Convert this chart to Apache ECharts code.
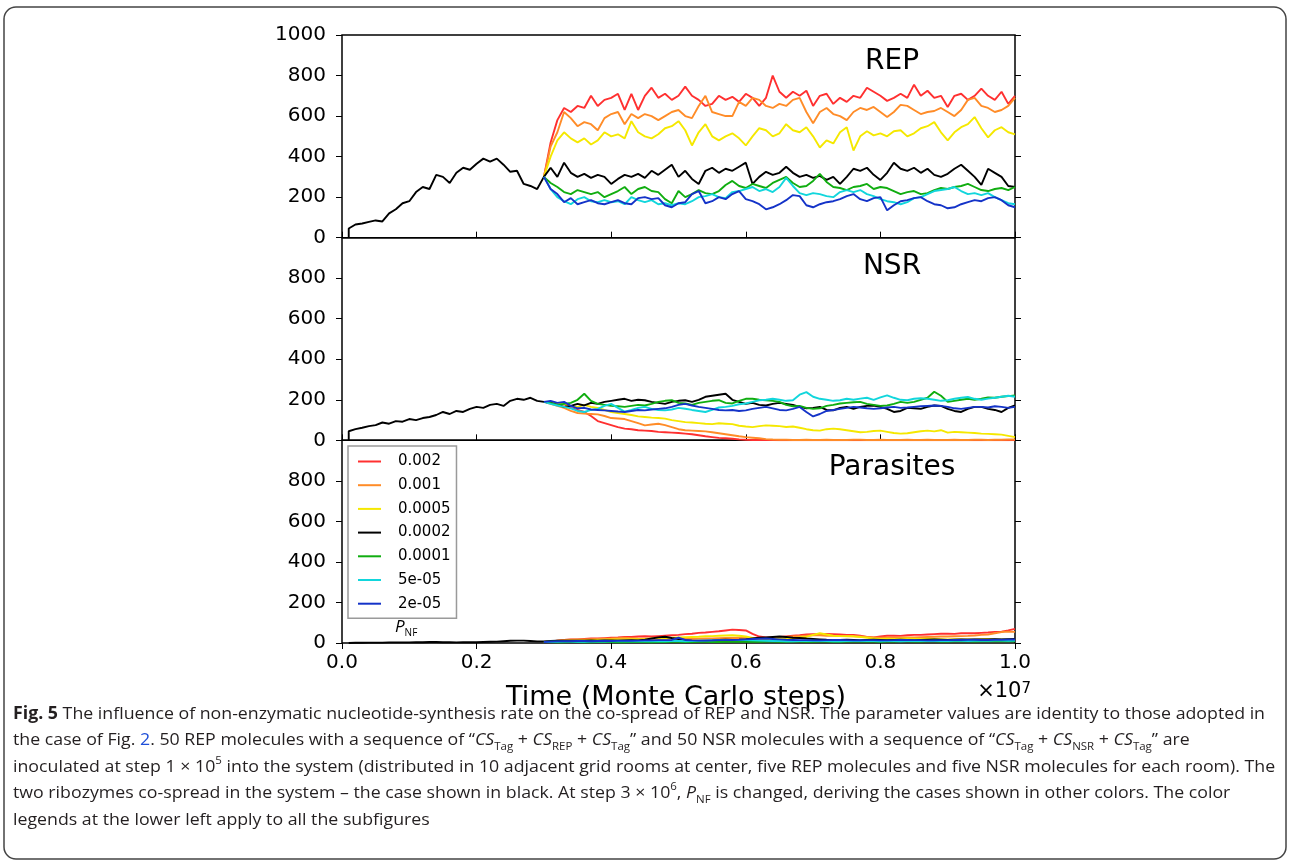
<!DOCTYPE html>
<html><head><meta charset="utf-8">
<script src="https://cdn.jsdelivr.net/npm/echarts@6/dist/echarts.min.js"></script>
<style>html,body{margin:0;padding:0;background:#fff}#c{width:1290px;height:864px}</style>
</head><body><div id="c"></div>
<script>
// ---------- categories / labels ----------
const panelNames = ['REP', 'NSR', 'Parasites'];
const seriesNames = ['0.002', '0.001', '0.0005', '0.0002', '0.0001', '5e-05', '2e-05'];
const seriesColors = ['#ff3030', '#ff8c28', '#f5e800', '#000000', '#10ad10', '#12d6dc', '#1433c8'];
const xTickLabels = ['0.0', '0.2', '0.4', '0.6', '0.8', '1.0']; // x 10^7
const yTickValues = [0, 200, 400, 600, 800, 1000];

// time (in units of 1e6 Monte Carlo steps)
const tPre = [0.1,0.1,0.2,0.3,0.4,0.5,0.6,0.7,0.8,0.9,
  1.0,1.1,1.2,1.3,1.4,1.5,1.6,1.7,1.8,1.9,
  2.0,2.1,2.2,2.3,2.4,2.5,2.6,2.7,2.8,2.9];
const tPost = [3.0,3.1,3.2,3.3,3.4,3.5,3.6,3.7,3.8,3.9,
  4.0,4.1,4.2,4.3,4.4,4.5,4.6,4.7,4.8,4.9,
  5.0,5.1,5.2,5.3,5.4,5.5,5.6,5.7,5.8,5.9,
  6.0,6.1,6.2,6.3,6.4,6.5,6.6,6.7,6.8,6.9,
  7.0,7.1,7.2,7.3,7.4,7.5,7.6,7.7,7.8,7.9,
  8.0,8.1,8.2,8.3,8.4,8.5,8.6,8.7,8.8,8.9,
  9.0,9.1,9.2,9.3,9.4,9.5,9.6,9.7,9.8,9.9,
  10.0];

// ---------- REP ----------
const repBlackPre = [0,45,65,70,78,85,80,120,140,170, 180,225,250,240,310,300,270,320,345,335, 365,390,375,390,360,325,330,265,255,240];
const repRed = [300,470,580,640,620,650,640,700,650,680, 690,710,630,710,630,700,740,690,710,680, 700,745,700,680,650,660,700,680,695,670, 710,690,650,690,800,720,690,720,700,725, 650,700,710,660,690,670,700,690,740,720, 700,675,690,710,690,755,700,725,690,700, 645,700,710,680,700,735,700,680,720,660, 700];
const repOrange = [300,450,520,620,590,550,570,560,530,590, 610,620,560,610,590,610,600,580,600,620, 630,600,590,650,700,620,610,600,600,670, 650,690,680,650,640,660,650,680,690,620, 565,620,640,610,600,580,620,640,630,645, 620,595,620,655,650,630,610,620,625,640, 620,600,630,680,690,650,640,620,630,650, 690];
const repYellow = [300,400,480,520,490,470,490,460,480,520, 500,510,490,575,520,500,490,510,540,550, 575,530,455,520,560,500,480,500,515,490, 455,500,540,530,500,515,560,530,520,545, 500,445,480,465,520,545,430,500,525,505, 515,500,525,530,500,515,540,550,570,520, 480,520,545,560,595,540,495,530,545,520, 510];
const repBlack = [300,345,300,370,320,300,315,295,310,300, 265,290,310,300,315,295,330,310,335,360, 300,330,290,265,330,345,320,340,330,350, 370,265,300,325,310,320,350,320,300,310, 295,305,285,300,265,300,340,330,345,310, 285,320,370,340,330,345,320,340,310,300, 315,340,360,330,300,260,340,320,300,255, 250];
const repGreen = [300,270,250,225,215,235,225,215,225,200, 215,230,250,215,240,250,230,225,190,170, 230,200,215,235,220,215,230,260,280,255, 245,265,255,245,270,285,300,270,250,255, 280,315,275,250,245,235,250,255,265,240, 250,245,230,215,225,230,215,220,235,245, 240,250,255,265,250,235,230,240,245,235, 250];
const repCyan = [300,240,200,180,165,190,200,180,175,185, 175,180,165,200,185,175,185,165,170,160, 170,165,180,200,205,215,200,195,225,230, 240,250,230,240,225,250,295,255,220,210, 220,215,205,200,225,235,225,235,215,205, 190,180,175,165,175,195,200,215,230,235, 240,250,230,215,220,210,220,200,185,170, 165];
const repBlue = [300,240,215,175,195,165,175,185,170,165, 175,185,170,165,195,200,190,195,160,150, 170,175,215,230,170,180,200,190,215,230, 190,180,165,140,150,165,185,210,205,160, 150,165,175,180,190,205,215,190,180,195, 200,135,160,180,185,195,200,180,165,160, 145,150,165,175,185,180,195,200,185,160, 150];

// ---------- NSR ----------
const nsrBlackPre = [0,45,55,62,70,75,88,82,95,92, 105,100,110,115,125,140,130,145,140,155, 165,160,175,180,170,195,205,200,210,195];
const nsrRed = [190,185,180,178,160,150,140,120,95,85, 75,65,58,55,50,48,46,42,40,38, 36,33,30,25,20,16,12,10,8,5, 3,2,2,1,1,0,1,0,0,1, 0,0,1,0,0,0,1,0,0,0, 1,0,0,0,0,1,0,0,0,0, 0,1,0,0,0,0,1,0,0,0, 1];
const nsrOrange = [190,180,170,160,145,135,132,130,128,120, 110,108,105,95,85,74,78,82,75,65, 55,50,48,46,44,40,35,30,25,20, 16,13,10,6,4,3,3,2,2,3, 2,2,3,2,2,2,3,3,2,2, 3,2,2,2,3,2,2,3,2,2, 2,3,2,2,3,3,2,3,3,4, 4];
const nsrYellow = [190,185,178,180,170,165,175,165,160,150, 140,135,130,125,118,115,112,110,107,100, 95,90,88,85,82,80,84,82,80,72, 68,65,70,74,72,70,66,68,62,55, 50,48,55,58,55,50,45,40,42,46, 48,42,36,33,35,40,45,48,44,50, 38,42,40,38,36,33,32,30,28,22, 16];
const nsrBlack = [190,185,175,165,170,180,172,185,180,190, 195,200,205,195,200,198,190,185,180,190, 195,198,190,200,215,220,225,230,200,190, 180,185,175,172,180,185,180,175,165,158, 160,165,150,148,160,165,155,165,170,172, 165,155,140,145,160,158,155,165,172,170, 155,145,140,155,165,165,155,150,140,160, 172];
const nsrGreen = [190,185,175,180,185,200,230,195,180,175, 170,168,165,170,175,172,180,190,195,198, 185,182,175,185,190,195,198,185,182,195, 205,205,200,198,195,190,175,168,170,160, 155,158,170,175,182,185,188,190,180,175, 170,172,180,190,185,190,200,210,240,220, 190,195,200,205,200,205,212,210,215,218, 222];
const nsrCyan = [190,180,172,165,158,145,140,150,155,170, 180,160,142,150,160,165,155,150,148,152, 160,156,150,145,140,150,162,165,170,178, 182,190,198,200,205,200,195,198,225,238, 215,205,200,195,198,205,200,206,210,200, 212,222,210,200,198,205,208,205,200,195, 198,205,210,214,205,200,206,210,215,220, 215];
const nsrBlue = [190,195,185,190,170,158,160,152,150,148, 145,142,140,145,150,148,152,155,158,165, 175,180,172,165,160,155,150,148,150,145, 148,155,160,165,158,150,148,155,165,140, 118,130,145,150,155,160,165,162,158,155, 158,162,165,160,162,165,168,170,172,170, 165,158,155,160,165,165,162,168,165,160, 165];

// ---------- Parasites ----------
const parBlackPre = [0,0,1,1,2,2,2,3,3,3, 3,4,4,5,5,4,4,3,4,4, 4,5,6,7,9,11,12,12,10,8];
const parRed = [5,8,12,15,17,18,20,22,22,24, 26,27,30,30,32,33,32,34,36,38, 40,44,46,50,52,55,58,62,66,64, 62,45,32,27,28,30,33,36,38,42, 43,44,45,44,42,40,40,36,30,27, 32,36,36,35,38,40,40,42,44,46, 46,45,48,49,48,50,52,55,56,62, 70];
const parOrange = [5,8,12,15,16,17,18,19,20,21, 22,24,26,24,22,21,20,20,21,22, 22,21,20,21,22,23,24,25,25,26, 25,24,22,23,25,27,30,32,34,36, 38,38,36,35,34,34,33,32,30,28, 26,27,28,28,27,28,29,30,31,32, 32,33,34,35,37,40,42,48,54,56, 55];
const parYellow = [5,7,9,10,11,12,13,14,15,16, 17,18,18,19,19,20,22,24,25,26, 28,29,30,31,33,34,36,37,38,36, 32,25,21,20,21,22,23,24,27,30, 40,48,42,36,34,33,33,30,26,22, 20,21,20,21,22,21,20,21,20,19, 18,19,18,19,18,19,20,19,18,19, 19];
const parBlack = [8,10,11,12,12,11,12,13,12,13, 13,12,13,14,13,16,22,28,31,25, 20,14,10,10,12,13,15,16,15,16, 18,22,26,28,30,32,30,26,25,22, 20,18,16,15,15,16,15,14,15,16, 15,14,15,16,15,14,15,16,17,16, 15,16,17,16,18,17,18,19,18,19, 20];
const parGreen = [5,5,4,4,5,5,4,4,5,5, 5,4,4,5,5,5,4,5,5,6, 6,5,5,6,6,5,5,6,6,6, 7,6,6,7,7,6,6,7,7,6, 6,7,7,6,6,7,7,8,7,7, 6,7,7,8,8,7,7,8,8,7, 7,8,8,8,7,8,8,9,9,8, 8];
const parCyan = [5,6,6,7,7,6,6,7,8,7, 8,8,9,8,8,9,9,10,9,10, 10,9,10,11,12,13,14,14,15,14, 14,13,12,11,10,10,9,9,10,10, 11,10,10,9,9,10,10,11,10,10, 9,10,10,9,10,11,10,10,11,10, 10,11,11,10,11,12,11,12,12,11, 12];
const parBlue = [5,7,8,9,9,10,10,9,10,11, 10,11,12,11,12,13,13,14,14,15, 26,15,13,12,12,13,14,14,15,16, 18,20,21,22,20,18,16,15,14,14, 13,13,14,15,15,14,13,13,14,14, 13,13,14,15,15,14,14,13,13,14, 14,15,15,16,16,15,15,16,16,17, 17];

const panelPre = [repBlackPre, nsrBlackPre, parBlackPre];
const panelPost = [
  [repRed, repOrange, repYellow, repBlack, repGreen, repCyan, repBlue],
  [nsrRed, nsrOrange, nsrYellow, nsrBlack, nsrGreen, nsrCyan, nsrBlue],
  [parRed, parOrange, parYellow, parBlack, parGreen, parCyan, parBlue]
];

// ---------- layout ----------
const L = 342, W = 673, TOP = 35, PH = 202.67;
const FONT = '"DejaVu Sans", sans-serif';

const grids = [], xAxes = [], yAxes = [], series = [];
for (let p = 0; p < 3; p++) {
  grids.push({left: L, width: W, top: TOP + p * PH, height: PH, show: true,
    borderColor: '#000', borderWidth: 1.5, backgroundColor: 'transparent'});
  xAxes.push({type: 'value', gridIndex: p, min: 0, max: 10, interval: 2,
    axisLine: {show: false},
    axisTick: {show: true, inside: p < 2, length: 6, lineStyle: {color: '#000', width: 1}},
    axisLabel: {show: p === 2, margin: 10, color: '#000', fontSize: 20, fontFamily: FONT,
      formatter: v => xTickLabels[Math.round(v / 2)]},
    splitLine: {show: false}});
  yAxes.push({type: 'value', gridIndex: p, min: 0, max: 1000, interval: 200, position: 'left',
    axisLine: {show: false},
    axisTick: {show: true, length: 6, lineStyle: {color: '#000', width: 1}},
    axisLabel: {margin: 16, color: '#000', fontSize: 20, fontFamily: FONT,
      formatter: v => (p > 0 && v === yTickValues[5]) ? '' : String(v)},
    splitLine: {show: false}});
  yAxes.push({type: 'value', gridIndex: p, min: 0, max: 1000, interval: 200, position: 'right',
    axisLine: {show: false},
    axisTick: {show: true, length: 6, lineStyle: {color: '#000', width: 1}},
    axisLabel: {show: false}, splitLine: {show: false}});
  for (let k = 0; k < 7; k++) {
    let data = [];
    if (k === 3) data = tPre.map((t, i) => [t, panelPre[p][i]]);
    data = data.concat(tPost.map((t, i) => [t, panelPost[p][k][i]]));
    series.push({type: 'line', name: seriesNames[k], xAxisIndex: p, yAxisIndex: p * 2,
      data: data, symbol: 'none', showSymbol: false, animation: false, color: seriesColors[k],
      lineStyle: {width: 1.9, color: seriesColors[k]}});
  }
}

// caption horizontal scale (condensed look)
const cv = document.createElement('canvas').getContext('2d');
const CAPF = '"Open Sans", sans-serif';
cv.font = 'bold 17px ' + CAPF;
let w1 = cv.measureText('Fig. 5').width;
cv.font = '17px ' + CAPF;
w1 += cv.measureText(' The influence of non-enzymatic nucleotide-synthesis rate on the co-spread of REP and NSR. The parameter values are identity to those adopted in').width;
const capScale = 1252 / w1;

const rich = {
  b: {fontWeight: 'bold', fontSize: 17, fontFamily: CAPF, fill: '#231f20', lineHeight: 24},
  i: {fontStyle: 'italic', fontSize: 17, fontFamily: CAPF, fill: '#231f20', lineHeight: 24},
  sub: {fontSize: 11, fontFamily: CAPF, fill: '#231f20', lineHeight: 12, verticalAlign: 'bottom'},
  sup: {fontSize: 11, fontFamily: CAPF, fill: '#231f20', lineHeight: 12, verticalAlign: 'top'},
  l: {fontSize: 17, fontFamily: CAPF, fill: '#1f4fd8', lineHeight: 24}
};
const captionLines = [
  '{b|Fig. 5} The influence of non-enzymatic nucleotide-synthesis rate on the co-spread of REP and NSR. The parameter values are identity to those adopted in',
  'the case of Fig. {l|2}. 50 REP molecules with a sequence of “{i|CS}{sub|Tag} + {i|CS}{sub|REP} + {i|CS}{sub|Tag}” and 50 NSR molecules with a sequence of “{i|CS}{sub|Tag} + {i|CS}{sub|NSR} + {i|CS}{sub|Tag}” are',
  'inoculated at step 1 × 10{sup|5} into the system (distributed in 10 adjacent grid rooms at center, five REP molecules and five NSR molecules for each room). The',
  'two ribozymes co-spread in the system – the case shown in black. At step 3 × 10{sup|6}, {i|P}{sub|NF} is changed, deriving the cases shown in other colors. The color',
  'legends at the lower left apply to all the subfigures'
];
const captionY = [714, 740.5, 767, 793.5, 820];

const graphic = [
  {type: 'rect', silent: true, shape: {x: 4, y: 7, width: 1282, height: 852, r: 12},
    style: {fill: 'none', stroke: '#444', lineWidth: 1.5}},
  {type: 'text', x: 892, y: 62, silent: true, style: {text: panelNames[0], font: '28px ' + FONT, fill: '#000', align: 'center', verticalAlign: 'middle'}},
  {type: 'text', x: 892, y: 267, silent: true, style: {text: panelNames[1], font: '28px ' + FONT, fill: '#000', align: 'center', verticalAlign: 'middle'}},
  {type: 'text', x: 892, y: 468, silent: true, style: {text: panelNames[2], font: '28px ' + FONT, fill: '#000', align: 'center', verticalAlign: 'middle'}},
  {type: 'text', x: 676, y: 698, silent: true, style: {text: 'Time (Monte Carlo steps)', font: '27px ' + FONT, fill: '#000', align: 'center', verticalAlign: 'middle'}},
  {type: 'text', x: 1031, y: 692, silent: true, style: {text: '×10{s|7}', font: '21px ' + FONT, fill: '#000', align: 'right', verticalAlign: 'middle',
    rich: {s: {fontSize: 15, fontFamily: FONT, fill: '#000', verticalAlign: 'top', lineHeight: 14}}}},
  {type: 'text', x: 395, y: 627, silent: true, style: {text: '{p|P}{n|NF}', align: 'left', verticalAlign: 'middle',
    rich: {p: {fontSize: 17, fontStyle: 'italic', fontFamily: '"Open Sans", sans-serif', fill: '#000', lineHeight: 22},
           n: {fontSize: 10, fontFamily: '"Open Sans", sans-serif', fill: '#000', lineHeight: 12, verticalAlign: 'bottom'}}}}
];
captionLines.forEach((txt, i) => {
  graphic.push({type: 'text', x: 13, y: captionY[i], scaleX: capScale, silent: true,
    style: {text: txt, fontSize: 17, fontFamily: CAPF, fill: '#231f20', align: 'left', verticalAlign: 'middle', lineHeight: 24, rich: rich}});
});

const chart = echarts.init(document.getElementById('c'), null, {renderer: 'canvas'});
chart.setOption({
  backgroundColor: '#fff',
  animation: false,
  grid: grids, xAxis: xAxes, yAxis: yAxes, series: series,
  legend: {data: seriesNames, left: 348, top: 446, orient: 'vertical',
    icon: 'rect', itemWidth: 23, itemHeight: 2, itemGap: 8.7, padding: [8, 6, 7, 10],
    borderColor: '#9a9a9a', borderWidth: 1.5, backgroundColor: '#fff', borderRadius: 0,
    selectedMode: false,
    textStyle: {fontFamily: FONT, fontSize: 15, lineHeight: 14, color: '#000', padding: [0, 0, 0, 12]}},
  graphic: graphic
});
</script></body></html>
